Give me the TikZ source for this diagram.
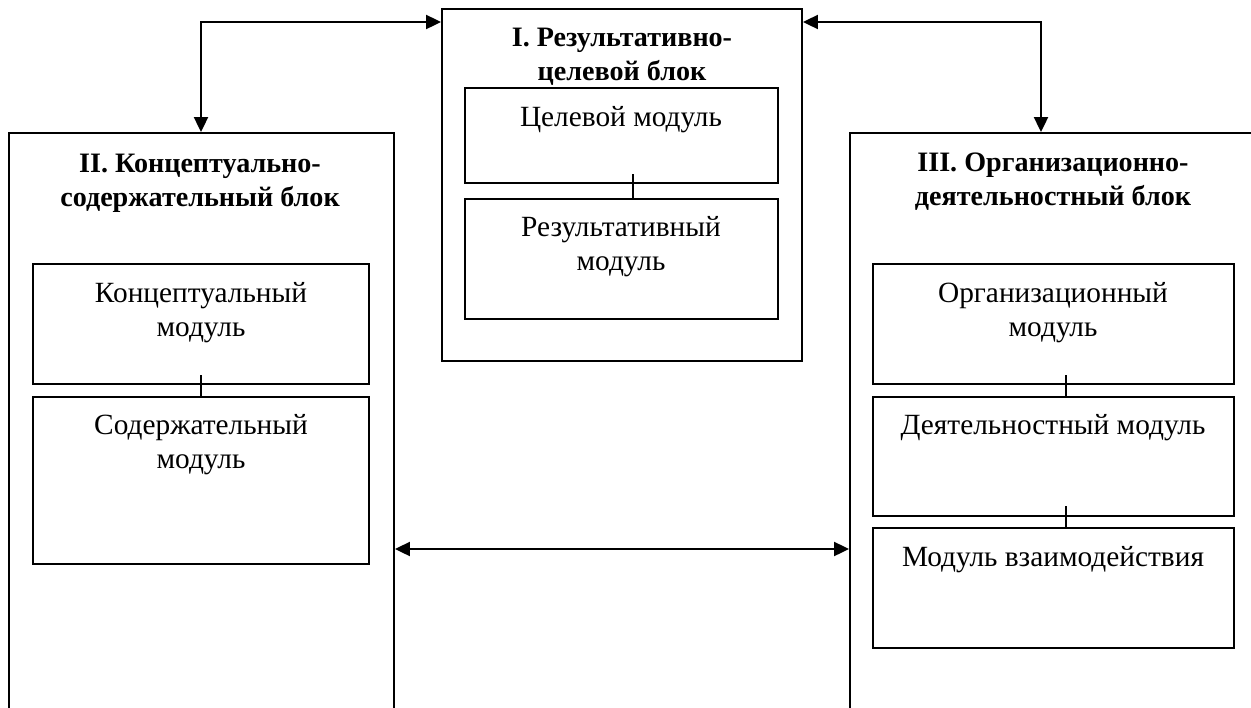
\documentclass[tikz,border=0pt]{standalone}
\usepackage{fontspec}
\setmainfont{Liberation Serif}
\usetikzlibrary{arrows.meta,fit}
\begin{document}
\begin{tikzpicture}[x=0.02cm,y=-0.02cm,line width=1pt,>={Triangle[length=8.5pt,width=8pt]},
  block/.style={draw,rectangle,inner sep=0pt,line width=1.1pt},
  module/.style={draw,rectangle,inner sep=0pt,line width=1pt},
  title/.style={anchor=base,align=center,inner sep=0pt,font=\fontsize{16}{19}\selectfont\bfseries},
  modtext/.style={anchor=base,align=center,inner sep=0pt,font=\fontsize{16.7}{19}\selectfont}]
\useasboundingbox (0,0) rectangle (1251,707);
\clip (0,0) rectangle (1251,707);

% Blocks
\node[block, fit={(442,9) (802,361)}] (blockI) {};
\node[block, fit={(9,133) (394,760)}] (blockII) {};
\node[block, fit={(850,133) (1257,760)}] (blockIII) {};

% (anchor=base is the last line)
\node[title] (titleI) at (622,80) {I. Результативно-\\целевой блок};
\node[title] (titleII) at (200,206) {II. Концептуально-\\содержательный блок};
\node[title] (titleIII) at (1053,205) {III. Организационно-\\деятельностный блок};

% Modules
\node[module, fit={(465,88) (778,183)}] (goal) {};
\node[module, fit={(465,199) (778,319)}] (result) {};
\node[module, fit={(33,264) (369,384)}] (concept) {};
\node[module, fit={(33,397) (369,564)}] (content) {};
\node[module, fit={(873,264) (1234,384)}] (org) {};
\node[module, fit={(873,397) (1234,516)}] (activity) {};
\node[module, fit={(873,528) (1234,648)}] (interact) {};

\node[modtext] (goaltext) at (621,126) {Целевой модуль};
\node[modtext] (resulttext) at (621,270) {Результативный\\модуль};
\node[modtext] (concepttext) at (201,336) {Концептуальный\\модуль};
\node[modtext] (contenttext) at (201,468) {Содержательный\\модуль};
\node[modtext] (orgtext) at (1053,336) {Организационный\\модуль};
\node[modtext] (activitytext) at (1053,434) {Деятельностный модуль};
\node[modtext] (interacttext) at (1053,566) {Модуль взаимодействия};

% Ticks between modules
\coordinate (tick1) at (633,174);
\draw (tick1) -- (tick1 |- result.north);
\coordinate (tick2) at (201,375);
\draw (tick2) -- (tick2 |- content.north);
\coordinate (tick3) at (1066,375);
\draw (tick3) -- (tick3 |- activity.north);
\coordinate (tick4) at (1066,506);
\draw (tick4) -- (tick4 |- interact.north);

% Arrows
\coordinate (lbend) at (201,22);
\coordinate (rbend) at (1041,22);
\coordinate (midrow) at (0,549);
\draw[<->] (blockII.north -| lbend) |- (blockI.west |- lbend);
\draw[<->] (blockI.east |- rbend) -| (blockIII.north -| rbend);
\draw[<->] (blockII.east |- midrow) -- (blockIII.west |- midrow);

\end{tikzpicture}
\end{document}
